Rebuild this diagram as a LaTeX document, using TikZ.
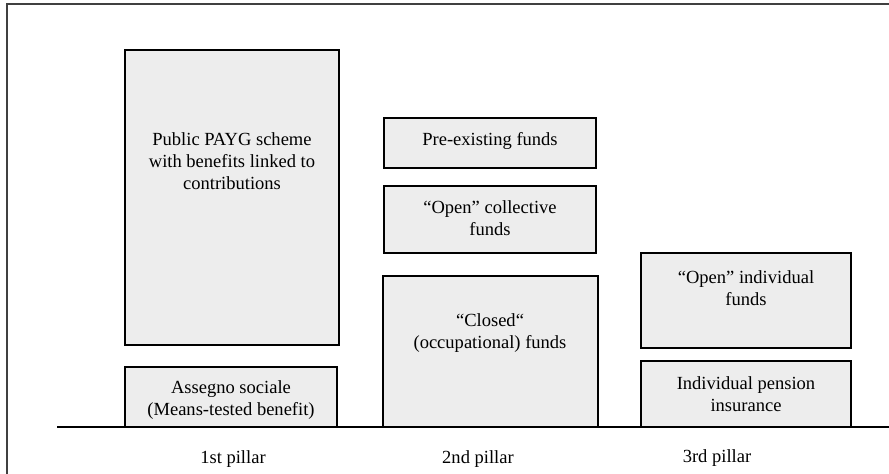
\documentclass[tikz,border=0pt]{standalone}
\usepackage{fontspec}
\setmainfont{Liberation Serif}
\usetikzlibrary{fit}
\usetikzlibrary{positioning}
\definecolor{BoxGrey}{HTML}{EDEDED}
\definecolor{FrameGrey}{HTML}{404040}

\tikzset{
  fundbox/.style={draw=black, line width=1.3pt, fill=BoxGrey, inner sep=0pt},
  fundtext/.style={align=center, inner sep=0pt, font=\fontsize{13.9}{16.4}\selectfont},
  pillar/.style={inner sep=0pt, font=\fontsize{13.9}{16.4}\selectfont}
}

\begin{document}
\begin{tikzpicture}[x=0.75pt, y=-0.75pt]
    \useasboundingbox (0,0) rectangle (889,474);
    \draw[FrameGrey, line width=1.4pt] (7,474) -- (7,4) -- (889,4);

    % 1st pillar
    \node[fundbox, fit={(125,50) (339,345)}] (payg) {};
    \node[fundtext] (payg-t) at (232,161) {Public PAYG scheme\\with benefits linked to\\contributions};
    \node[fundbox, fit={(125,367) (337,427)}] (assegno) {};
    \node[fundtext] (assegno-t) at (231,400) {Assegno sociale\\(Means-tested benefit)};

    % 2nd pillar
    \node[fundbox, fit={(384,118) (596,168)}] (preex) {};
    \node[fundtext] (preex-t) at (490,141) {Pre-existing funds};
    \node[fundbox, fit={(384,186) (596,253)}] (opencoll) {};
    \node[fundtext] (opencoll-t) at (490,218) {“Open” collective\\funds};
    \node[fundbox, fit={(383,276) (598,427)}] (closed) {};
    \node[fundtext] (closed-t) at (490,333) {“Closed“\\(occupational) funds};

    % 3rd pillar
    \node[fundbox, fit={(641,253) (851,348)}] (openind) {};
    \node[fundtext] (openind-t) at (746,288) {“Open” individual\\funds};
    \node[fundbox, fit={(641,361) (851,427)}] (indins) {};
    \node[fundtext] (indins-t) at (746,394) {Individual pension\\insurance};

    \coordinate (base-l) at (57,427);
    \coordinate (base-r) at (889,427);
    \draw[line width=1.3pt] (base-l) -- (base-r);

    \node[pillar] (p1) at (233,459) {1st pillar};
    \node[pillar] (p2) at (478,459) {2nd pillar};
    \node[pillar] (p3) at (717,458) {3rd pillar};
\end{tikzpicture}
\end{document}
